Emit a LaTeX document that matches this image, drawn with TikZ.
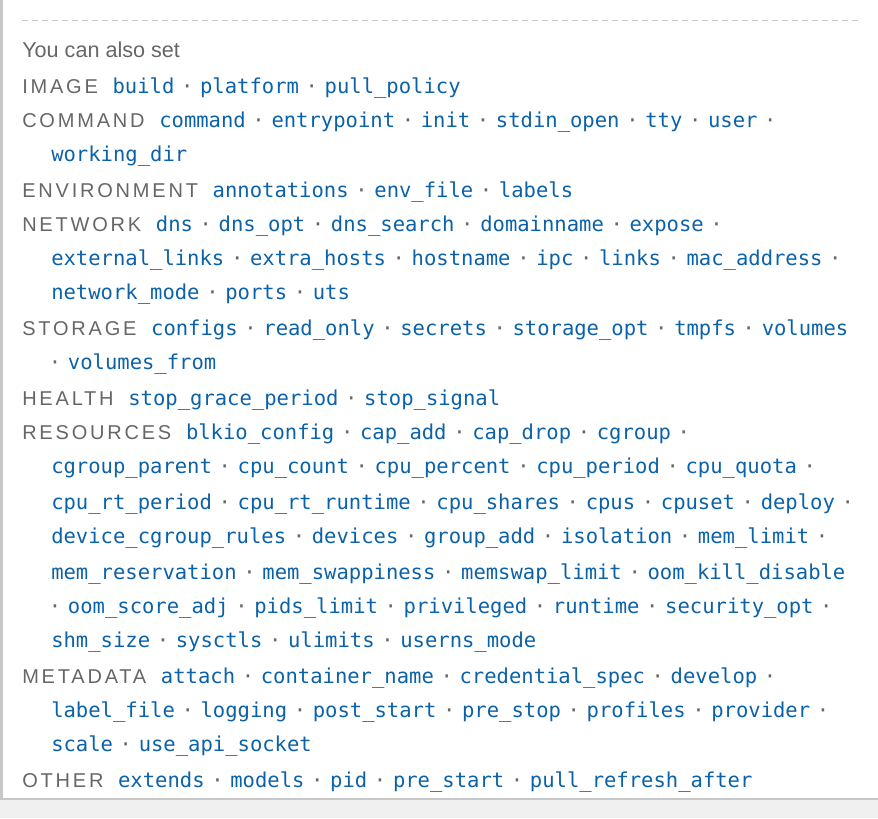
\documentclass[tikz,border=0pt]{standalone}
\usepackage{fontspec}
\setmainfont{Liberation Sans}
\newfontfamily\codefont{DejaVu Sans Mono}[Scale=1]
\newfontfamily\capsfont{Liberation Sans}[LetterSpace=14]
\definecolor{keyblue}{HTML}{0B62A8}
\definecolor{labelgray}{HTML}{666666}
\definecolor{rulegray}{HTML}{C8C8C8}
\definecolor{footgray}{HTML}{F0F0F0}
\newcommand{\sep}{\hspace{5pt}{\color{labelgray}·}\hspace{5pt}}
\newcommand{\grp}[1]{{\fontsize{15}{15}\capsfont\color{labelgray}#1}\hspace{11pt}}
\tikzset{
  row/.style={anchor=base west, inner sep=0pt, font=\fontsize{15.4}{15}\codefont, text=keyblue},
  intro/.style={anchor=base west, inner sep=0pt, font=\fontsize{16.2}{16}\selectfont, text=labelgray}
}
\begin{document}
\begin{tikzpicture}[x=0.75pt, y=-0.75pt]
  \useasboundingbox (0,0) rectangle (878,818);
  % frame
  \fill[footgray] (0,799) rectangle (878,818);
  \draw[rulegray, line width=1.5pt] (0,799) -- (878,799);
  \draw[rulegray, line width=2.2pt] (1.5,0) -- (1.5,799);
  \draw[rulegray, dashed, dash pattern=on 4.5pt off 3pt] (22,20) -- (858,20);

  \node[intro] (intro) at (22,57) {You can also set};
  \node[row] (l1) at (22,93) {\grp{IMAGE}build\sep platform\sep pull\_policy};
  \node[row] (l2) at (22,127) {\grp{COMMAND}command\sep entrypoint\sep init\sep stdin\_open\sep tty\sep user\sep};
  \node[row] (l3) at (51,161) {working\_dir};
  \node[row] (l4) at (22,197) {\grp{ENVIRONMENT}annotations\sep env\_file\sep labels};
  \node[row] (l5) at (22,231) {\grp{NETWORK}dns\sep dns\_opt\sep dns\_search\sep domainname\sep expose\sep};
  \node[row] (l6) at (51,265) {external\_links\sep extra\_hosts\sep hostname\sep ipc\sep links\sep mac\_address\sep};
  \node[row] (l7) at (51,299) {network\_mode\sep ports\sep uts};
  \node[row] (l8) at (22,335) {\grp{STORAGE}configs\sep read\_only\sep secrets\sep storage\_opt\sep tmpfs\sep volumes};
  \node[row] (l9) at (42,369) {\sep volumes\_from};
  \node[row] (l10) at (22,405) {\grp{HEALTH}stop\_grace\_period\sep stop\_signal};
  \node[row] (l11) at (22,439) {\grp{RESOURCES}blkio\_config\sep cap\_add\sep cap\_drop\sep cgroup\sep};
  \node[row] (l12) at (51,473) {cgroup\_parent\sep cpu\_count\sep cpu\_percent\sep cpu\_period\sep cpu\_quota\sep};
  \node[row] (l13) at (51,509) {cpu\_rt\_period\sep cpu\_rt\_runtime\sep cpu\_shares\sep cpus\sep cpuset\sep deploy\sep};
  \node[row] (l14) at (51,543) {device\_cgroup\_rules\sep devices\sep group\_add\sep isolation\sep mem\_limit\sep};
  \node[row] (l15) at (51,579) {mem\_reservation\sep mem\_swappiness\sep memswap\_limit\sep oom\_kill\_disable};
  \node[row] (l16) at (42,613) {\sep oom\_score\_adj\sep pids\_limit\sep privileged\sep runtime\sep security\_opt\sep};
  \node[row] (l17) at (51,647) {shm\_size\sep sysctls\sep ulimits\sep userns\_mode};
  \node[row] (l18) at (22,683) {\grp{METADATA}attach\sep container\_name\sep credential\_spec\sep develop\sep};
  \node[row] (l19) at (51,717) {label\_file\sep logging\sep post\_start\sep pre\_stop\sep profiles\sep provider\sep};
  \node[row] (l20) at (51,751) {scale\sep use\_api\_socket};
  \node[row] (l21) at (22,787) {\grp{OTHER}extends\sep models\sep pid\sep pre\_start\sep pull\_refresh\_after};
\end{tikzpicture}
\end{document}
